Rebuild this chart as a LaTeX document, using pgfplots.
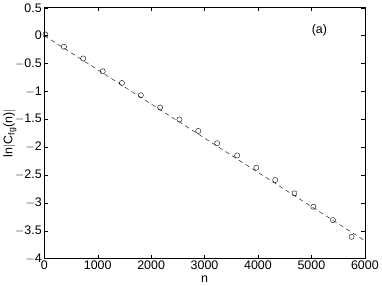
\documentclass[border=0pt]{standalone}
\usepackage{pgfplots}
\pgfplotsset{compat=1.18}
\usepackage{fontspec}
\setmainfont{Liberation Sans}
\begin{document}
\begin{tikzpicture}
\begin{axis}[
  scale only axis,
  width=322pt, height=252pt,
  xmin=0, xmax=6000, ymin=-4, ymax=0.5,
  xtick={0,1000,...,6000},
  ytick={-4,-3.5,...,0.5},
  yticklabels={$-$4,$-$3.5,$-$3,$-$2.5,$-$2,$-$1.5,$-$1,$-$0.5,0,0.5},
  scaled x ticks=false,
  /pgf/number format/.cd, 1000 sep={}, assume math mode=true,
  /pgfplots/.cd,
  tick align=inside,
  tick style={black, line width=0.4pt},
  major tick length=3.5pt,
  axis line style={line width=0.5pt},
  tick label style={font=\fontsize{12.5}{14}\selectfont},
  label style={font=\fontsize{12.5}{14}\selectfont},
  xticklabel style={yshift=1pt},
  yticklabel style={xshift=1pt},
  xlabel={n},
  ylabel={ln$|$C$_{\mathrm{fg}}$(n)$|$},
  xlabel style={yshift=1pt},
  ylabel style={yshift=-8pt},
  clip=false,
]
\addplot[black, line width=0.4pt, dash pattern=on 4.5pt off 3.5pt] coordinates {(0,0.0) (6000,-3.68)};
\addplot[only marks, mark=o, mark size=2.6pt, mark options={line width=0.4pt, black}] coordinates {
(20,0.02) (367,-0.20) (727,-0.41) (1093,-0.64) (1453,-0.85) (1807,-1.07) (2168,-1.29)
(2528,-1.505) (2882,-1.71) (3236,-1.93) (3609,-2.15) (3969,-2.37) (4323,-2.59)
(4683,-2.83) (5037,-3.07) (5403,-3.31) (5752,-3.61)};
\node[font=\fontsize{12.5}{14}\selectfont] at (axis cs:5150,0.09) {(a)};
\end{axis}
\end{tikzpicture}
\end{document}
